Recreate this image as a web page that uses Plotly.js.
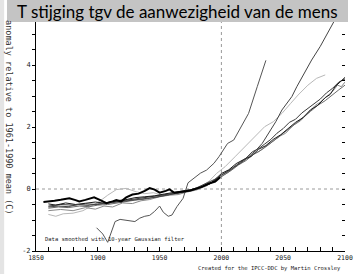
<!DOCTYPE html>
<html>
<head>
<meta charset="utf-8">
<script src="https://cdn.plot.ly/plotly-3.0.1.min.js"></script>
<style>html,body{margin:0;padding:0;background:#fff;}#chart{width:355px;height:274px;}</style>
</head>
<body>
<div id="chart"></div>
<script>
// ---- data ----
const obsYears = [1856,1860,1865,1870,1874,1877,1882,1885,1890,1894,1897,1902,1907,1912,1915,1919,1923,1928,1933,1938,1942,1946,1950,1955,1958,1962,1966,1970,1975,1978,1984,1990,1995,1999];
const obsVals  = [-0.42,-0.41,-0.38,-0.35,-0.33,-0.30,-0.36,-0.40,-0.35,-0.30,-0.27,-0.36,-0.46,-0.40,-0.36,-0.40,-0.27,-0.18,-0.15,-0.06,0.03,-0.02,-0.12,-0.06,-0.01,-0.12,-0.10,-0.09,-0.05,-0.01,0.07,0.18,0.24,0.38];

const steepYears = [1899,1904,1908,1911,1914,1918,1922,1926,1930,1934,1938,1942,1946,1950,1953,1957,1960,1964,1969,1973,1979,1983,1988,1994,1998,2002,2005,2010,2015,2022,2029,2036];
const steepVals  = [-1.25,-1.45,-1.72,-1.4,-1.05,-0.98,-1.0,-1.02,-1.05,-0.94,-0.88,-0.85,-0.72,-0.55,-0.75,-0.88,-0.84,-0.57,-0.3,0.2,0.4,0.51,0.61,0.83,1.04,1.3,1.47,1.58,1.96,2.44,3.3,4.15];

const highYears = [1860,1868,1876,1884,1892,1900,1908,1916,1924,1932,1940,1948,1956,1964,1972,1980,1988,1995,2000,2006,2011,2016,2022,2028,2033,2038,2044,2049,2053,2057,2061,2067,2073,2080,2086,2091,2096,2100];
const highVals  = [-0.58,-0.55,-0.57,-0.5,-0.53,-0.48,-0.46,-0.42,-0.4,-0.34,-0.3,-0.26,-0.2,-0.14,-0.07,0.04,0.18,0.32,0.45,0.58,0.72,0.85,1.04,1.25,1.47,1.8,2.17,2.55,2.75,2.98,3.3,3.73,4.16,4.6,5.02,5.4,5.75,6.05];

const lightYears = [1860,1866,1872,1880,1888,1895,1901,1908,1915,1923,1931,1938,1945,1952,1960,1968,1975,1982,1990,1996,2003,2011,2019,2027,2035,2042,2049,2056,2062,2070,2077,2084];
const lightVals  = [-0.82,-0.88,-0.8,-0.78,-0.7,-0.55,-0.41,-0.2,-0.02,0.02,-0.09,-0.15,-0.12,-0.2,-0.15,-0.1,-0.05,0.05,0.25,0.5,0.72,1.04,1.36,1.69,2.01,2.17,2.44,2.76,3.03,3.35,3.57,3.68];

const runAYears = [1860,1870,1880,1890,1900,1910,1920,1930,1940,1950,1960,1970,1980,1990,2000,2008,2015,2020,2025,2030,2035,2040,2045,2050,2055,2060,2065,2070,2075,2080,2085,2090,2095,2100];
const runAVals  = [-0.55,-0.5,-0.52,-0.48,-0.5,-0.42,-0.38,-0.32,-0.25,-0.2,-0.15,-0.1,0.0,0.15,0.45,0.65,0.85,1.0,1.2,1.3,1.45,1.6,1.8,1.95,2.15,2.25,2.45,2.6,2.75,2.9,3.1,3.25,3.45,3.55];

const runBYears = [1860,1868,1876,1885,1893,1900,1908,1915,1922,1930,1938,1945,1952,1960,1968,1975,1982,1990,1996,2002,2008,2014,2020,2026,2032,2038,2044,2050,2055,2060,2066,2072,2078,2084,2090,2095,2100];
const runBVals  = [-0.62,-0.58,-0.6,-0.55,-0.57,-0.52,-0.5,-0.45,-0.42,-0.36,-0.33,-0.27,-0.22,-0.17,-0.12,-0.05,0.02,0.15,0.3,0.45,0.6,0.78,0.92,1.12,1.25,1.42,1.62,1.8,1.95,2.1,2.3,2.5,2.7,2.85,3.05,3.2,3.35];

const runCYears = [1860,1870,1880,1890,1898,1905,1912,1920,1928,1935,1942,1950,1958,1965,1972,1980,1988,1995,2000,2006,2012,2018,2024,2030,2036,2042,2048,2052,2058,2064,2070,2076,2080,2086,2090,2094,2097,2100];
const runCVals  = [-0.7,-0.66,-0.7,-0.6,-0.65,-0.55,-0.58,-0.45,-0.47,-0.38,-0.34,-0.25,-0.2,-0.18,-0.1,-0.03,0.1,0.3,0.4,0.55,0.75,0.9,1.08,1.2,1.38,1.55,1.72,1.8,2.05,2.2,2.45,2.7,2.8,3.0,3.15,3.35,3.3,3.45];

const runDYears = [1860,1866,1874,1882,1890,1898,1906,1914,1922,1930,1938,1946,1954,1962,1970,1978,1985,1992,2000,2006,2012,2018,2024,2030,2036,2042,2048,2054,2060,2066,2072,2078,2084,2088,2092,2096,2100];
const runDVals  = [-0.48,-0.52,-0.45,-0.5,-0.46,-0.42,-0.46,-0.38,-0.35,-0.28,-0.25,-0.22,-0.16,-0.1,-0.06,0.0,0.08,0.2,0.5,0.62,0.82,0.95,1.05,1.28,1.4,1.6,1.75,1.95,2.15,2.3,2.55,2.7,2.95,3.05,3.3,3.45,3.6];

const xTickVals = [1850,1860,1870,1880,1890,1900,1910,1920,1930,1940,1950,1960,1970,1980,1990,2000,2010,2020,2030,2040,2050,2060,2070,2080,2090,2100];
const xTickText = ['1850','','','','','1900','','','','','1950','','','','','2000','','','','','2050','','','','','2100'];
const yTickVals = [-2,-1.5,-1,-0.5,0,0.5,1,1.5,2,2.5,3,3.5,4,4.5,5,5.5,6];
const yTickText = ['-2','','','','0','','','','2','','','','4','','','',''];

const titleText = 'T stijging tgv de aanwezigheid van de mens';
const yTitleText = 'anomaly relative to 1961-1990 mean (C)';
const noteText = 'Data smoothed with 10-year Gaussian filter';
const creditText = 'Created for the IPCC-DDC by Martin Crossley';

const mono = 'DejaVu Sans Mono, Liberation Mono, monospace';

function line(x, y, color, width) {
  return {x: x, y: y, type: 'scatter', mode: 'lines', showlegend: false, hoverinfo: 'skip',
          line: {color: color, width: width}};
}

const traces = [
  line(lightYears, lightVals, '#b8b8b8', 1),
  line(runCYears, runCVals, '#8a8a8a', 1),
  line(runBYears, runBVals, '#6a6a6a', 1),
  line(runAYears, runAVals, '#3a3a3a', 1),
  line(runDYears, runDVals, '#1a1a1a', 1),
  line(highYears, highVals, '#444444', 1),
  line(steepYears, steepVals, '#555555', 1),
  line(obsYears, obsVals, '#000000', 2),
  {x: [], y: [], type: 'scatter', yaxis: 'y2', showlegend: false, hoverinfo: 'skip'}
];

const layout = {
  width: 355, height: 274,
  margin: {l: 36, r: 10, t: 3, b: 23},
  paper_bgcolor: '#ffffff', plot_bgcolor: '#ffffff',
  showlegend: false,
  xaxis: {
    range: [1850, 2100], tickmode: 'array', tickvals: xTickVals, ticktext: xTickText,
    ticks: 'inside', ticklen: 4, tickcolor: '#000', showline: true, linecolor: '#000', linewidth: 1,
    showgrid: false, zeroline: false, tickfont: {family: mono, size: 6.5, color: '#222'}
  },
  yaxis: {
    range: [-2, 6], tickmode: 'array', tickvals: yTickVals, ticktext: yTickText,
    ticks: 'outside', ticklen: 3, tickcolor: '#000', showline: true, linecolor: '#000', linewidth: 1,
    showgrid: false, zeroline: false, tickfont: {family: mono, size: 7, color: '#222'}
  },
  yaxis2: {
    overlaying: 'y', side: 'right', anchor: 'x', range: [-2, 6], tickmode: 'array', tickvals: yTickVals,
    showticklabels: false, ticks: 'inside', ticklen: 3, tickcolor: '#000', showline: false,
    showgrid: false, zeroline: false
  },
  shapes: [
    {type: 'line', xref: 'x', yref: 'paper', x0: 2000, x1: 2000, y0: 0, y1: 1, layer: 'below',
     line: {color: '#9a9a9a', width: 1, dash: 'dot'}},
    {type: 'line', xref: 'paper', yref: 'y', x0: 0, x1: 1, y0: 0, y1: 0, layer: 'below',
     line: {color: '#9a9a9a', width: 1, dash: 'dot'}},
    {type: 'rect', xref: 'paper', yref: 'paper', x0: -0.0939, x1: 1.0097, y0: 0.9234, y1: 1.02,
     fillcolor: '#c4c4c4', line: {width: 0}, layer: 'above'},
    {type: 'rect', xref: 'paper', yref: 'paper', x0: -0.12, x1: -0.103, y0: -0.1, y1: 1.02,
     fillcolor: '#e4e4e4', line: {width: 0}, layer: 'above'}
  ],
  annotations: [
    {text: titleText, xref: 'paper', yref: 'paper', x: 0.4595, y: 0.9657, xanchor: 'center', yanchor: 'middle',
     showarrow: false, font: {family: 'Lato, Noto Sans, sans-serif', size: 17, color: '#000'}},
    {text: yTitleText, xref: 'paper', yref: 'paper', x: -0.0874, y: 0.54, xanchor: 'center', yanchor: 'middle',
     textangle: 90, showarrow: false, font: {family: mono, size: 8.5, color: '#333'}},
    {text: noteText, xref: 'paper', yref: 'paper', x: 0.0227, y: 0.048, xanchor: 'left', yanchor: 'middle',
     showarrow: false, font: {family: mono, size: 5.5, color: '#222'}},
    {text: creditText, xref: 'paper', yref: 'paper', x: 0.9935, y: -0.072, xanchor: 'right', yanchor: 'middle',
     showarrow: false, font: {family: mono, size: 5.5, color: '#222'}}
  ]
};

Plotly.newPlot('chart', traces, layout, {staticPlot: true, displayModeBar: false});
</script>
</body>
</html>
